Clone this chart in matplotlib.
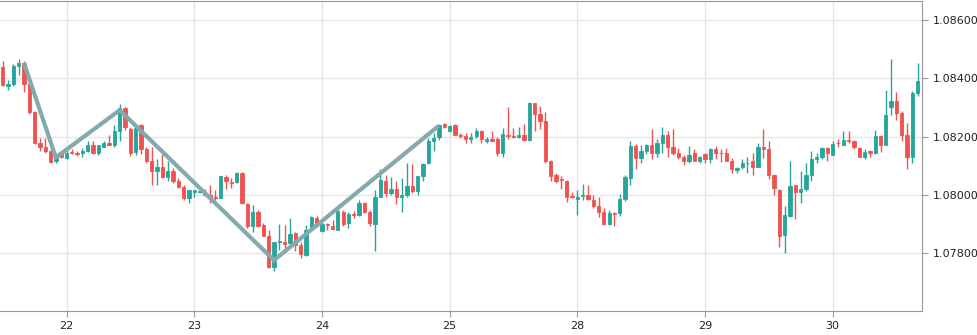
import matplotlib
matplotlib.use("Agg")
import matplotlib.pyplot as plt
import numpy as np

# hourly candles, first one at 21st 12:00
opens = [1.08439, 1.08375, 1.08379, 1.08443, 1.08452, 1.08382, 1.08286, 1.08177, 1.08166, 1.08150,
         1.08118, 1.08143, 1.08127, 1.08148, 1.08143, 1.08143, 1.08150, 1.08170, 1.08143, 1.08166,
         1.08180, 1.08173, 1.08218, 1.08298, 1.08227, 1.08147, 1.08241, 1.08159, 1.08116, 1.08082,
         1.08098, 1.08061, 1.08084, 1.08050, 1.08027, 1.07991, 1.08009, 1.08011, 1.08009, 1.08002,
         1.07993, 1.07991, 1.08061, 1.08044, 1.08045, 1.08077, 1.07970, 1.07893, 1.07941, 1.07898,
         1.07859, 1.07755, 1.07839, 1.07840, 1.07836, 1.07870, 1.07830, 1.07796, 1.07891, 1.07920,
         1.07877, 1.07902, 1.07895, 1.07882, 1.07943, 1.07905, 1.07934, 1.07932, 1.07973, 1.07943,
         1.07902, 1.07995, 1.08050, 1.08007, 1.08020, 1.07993, 1.08002, 1.08030, 1.08014, 1.08064,
         1.08109, 1.08184, 1.08198, 1.08243, 1.08220, 1.08241, 1.08207, 1.08202, 1.08191, 1.08202,
         1.08220, 1.08186, 1.08191, 1.08193, 1.08143, 1.08206, 1.08202, 1.08198, 1.08207, 1.08189,
         1.08314, 1.08277, 1.08254, 1.08118, 1.08068, 1.08055, 1.08050, 1.07998, 1.07986, 1.07997,
         1.08000, 1.07982, 1.07961, 1.07941, 1.07900, 1.07939, 1.07939, 1.07986, 1.08057, 1.08168,
         1.08127, 1.08152, 1.08173, 1.08143, 1.08180, 1.08207, 1.08166, 1.08143, 1.08130, 1.08116,
         1.08143, 1.08118, 1.08141, 1.08123, 1.08159, 1.08145, 1.08145, 1.08118, 1.08086, 1.08095,
         1.08109, 1.08116, 1.08098, 1.08166, 1.08159, 1.08070, 1.08018, 1.07863, 1.07927, 1.08034,
         1.08009, 1.08020, 1.08070, 1.08125, 1.08132, 1.08161, 1.08139, 1.08180, 1.08173, 1.08189,
         1.08186, 1.08161, 1.08132, 1.08152, 1.08143, 1.08202, 1.08173, 1.08302, 1.08323, 1.08282,
         1.08207, 1.08132, 1.08350]
highs = [1.08459, 1.08393, 1.08448, 1.08466, 1.08459, 1.08384, 1.08289, 1.08195, 1.08195, 1.08157,
         1.08141, 1.08152, 1.08161, 1.08157, 1.08152, 1.08161, 1.08184, 1.08186, 1.08173, 1.08184,
         1.08205, 1.08241, 1.08311, 1.08302, 1.08232, 1.08236, 1.08245, 1.08164, 1.08166, 1.08125,
         1.08141, 1.08118, 1.08093, 1.08057, 1.08034, 1.08018, 1.08018, 1.08023, 1.08020, 1.08036,
         1.08016, 1.08066, 1.08068, 1.08057, 1.08079, 1.08079, 1.07973, 1.07966, 1.07948, 1.07905,
         1.07880, 1.07841, 1.07902, 1.07898, 1.07923, 1.07873, 1.07839, 1.07898, 1.07927, 1.07927,
         1.07907, 1.07905, 1.07914, 1.07950, 1.07948, 1.07943, 1.07945, 1.07982, 1.07975, 1.07948,
         1.08016, 1.08089, 1.08068, 1.08061, 1.08050, 1.08057, 1.08111, 1.08107, 1.08066, 1.08109,
         1.08195, 1.08214, 1.08243, 1.08248, 1.08241, 1.08242, 1.08214, 1.08214, 1.08214, 1.08229,
         1.08223, 1.08200, 1.08218, 1.08198, 1.08229, 1.08302, 1.08229, 1.08234, 1.08245, 1.08320,
         1.08316, 1.08307, 1.08286, 1.08120, 1.08077, 1.08064, 1.08052, 1.08009, 1.08016, 1.08039,
         1.08036, 1.08000, 1.07995, 1.07955, 1.07948, 1.07941, 1.08005, 1.08070, 1.08186, 1.08175,
         1.08173, 1.08175, 1.08225, 1.08193, 1.08234, 1.08218, 1.08225, 1.08161, 1.08139, 1.08168,
         1.08157, 1.08133, 1.08143, 1.08161, 1.08168, 1.08157, 1.08161, 1.08127, 1.08095, 1.08125,
         1.08132, 1.08145, 1.08180, 1.08225, 1.08184, 1.08073, 1.08020, 1.07964, 1.08118, 1.08036,
         1.08084, 1.08111, 1.08150, 1.08143, 1.08166, 1.08164, 1.08186, 1.08191, 1.08220, 1.08220,
         1.08189, 1.08164, 1.08157, 1.08154, 1.08223, 1.08207, 1.08359, 1.08466, 1.08352, 1.08289,
         1.08248, 1.08357, 1.08454]
lows = [1.08374, 1.08359, 1.08375, 1.08411, 1.08354, 1.08277, 1.08175, 1.08152, 1.08143, 1.08110,
        1.08109, 1.08127, 1.08125, 1.08141, 1.08134, 1.08132, 1.08148, 1.08141, 1.08139, 1.08164,
        1.08170, 1.08164, 1.08184, 1.08223, 1.08135, 1.08136, 1.08141, 1.08111, 1.08036, 1.08033,
        1.08057, 1.08050, 1.08041, 1.08025, 1.07982, 1.07973, 1.07993, 1.08007, 1.07998, 1.07973,
        1.07984, 1.07989, 1.08020, 1.08025, 1.08043, 1.07970, 1.07886, 1.07875, 1.07891, 1.07859,
        1.07752, 1.07741, 1.07811, 1.07806, 1.07834, 1.07809, 1.07784, 1.07793, 1.07889, 1.07891,
        1.07875, 1.07880, 1.07880, 1.07880, 1.07895, 1.07889, 1.07920, 1.07930, 1.07939, 1.07893,
        1.07809, 1.07993, 1.07993, 1.08000, 1.07970, 1.07943, 1.07993, 1.08007, 1.08002, 1.08048,
        1.08107, 1.08152, 1.08189, 1.08229, 1.08216, 1.08206, 1.08195, 1.08177, 1.08177, 1.08195,
        1.08179, 1.08179, 1.08184, 1.08134, 1.08129, 1.08191, 1.08195, 1.08195, 1.08186, 1.08184,
        1.08218, 1.08227, 1.08109, 1.08048, 1.08043, 1.08020, 1.07975, 1.07989, 1.07932, 1.07982,
        1.07984, 1.07955, 1.07925, 1.07898, 1.07899, 1.07893, 1.07927, 1.07980, 1.08034, 1.08091,
        1.08109, 1.08141, 1.08125, 1.08132, 1.08143, 1.08129, 1.08136, 1.08125, 1.08102, 1.08111,
        1.08116, 1.08111, 1.08111, 1.08109, 1.08125, 1.08114, 1.08116, 1.08075, 1.08077, 1.08091,
        1.08077, 1.08070, 1.08095, 1.08127, 1.08055, 1.08002, 1.07823, 1.07800, 1.07925, 1.07918,
        1.07973, 1.08014, 1.08050, 1.08109, 1.08125, 1.08118, 1.08136, 1.08164, 1.08170, 1.08177,
        1.08157, 1.08129, 1.08125, 1.08132, 1.08141, 1.08148, 1.08170, 1.08273, 1.08259, 1.08186,
        1.08089, 1.08111, 1.08341]
closes = [1.08376, 1.08382, 1.08443, 1.08452, 1.08382, 1.08286, 1.08177, 1.08166, 1.08150, 1.08112,
          1.08130, 1.08132, 1.08145, 1.08143, 1.08141, 1.08150, 1.08170, 1.08143, 1.08170, 1.08180,
          1.08173, 1.08218, 1.08298, 1.08232, 1.08145, 1.08229, 1.08159, 1.08116, 1.08082, 1.08098,
          1.08061, 1.08084, 1.08050, 1.08027, 1.07991, 1.08016, 1.08016, 1.08015, 1.08000, 1.07993,
          1.07990, 1.08064, 1.08048, 1.08041, 1.08077, 1.07973, 1.07893, 1.07941, 1.07893, 1.07861,
          1.07755, 1.07839, 1.07842, 1.07834, 1.07868, 1.07830, 1.07798, 1.07882, 1.07925, 1.07905,
          1.07900, 1.07898, 1.07884, 1.07945, 1.07900, 1.07936, 1.07932, 1.07973, 1.07943, 1.07905,
          1.07995, 1.08052, 1.08007, 1.08020, 1.07993, 1.08002, 1.08030, 1.08014, 1.08064, 1.08107,
          1.08184, 1.08195, 1.08241, 1.08234, 1.08236, 1.08207, 1.08202, 1.08191, 1.08200, 1.08220,
          1.08193, 1.08191, 1.08186, 1.08143, 1.08211, 1.08202, 1.08198, 1.08207, 1.08189, 1.08314,
          1.08279, 1.08254, 1.08118, 1.08064, 1.08050, 1.08051, 1.07995, 1.07993, 1.07995, 1.07999,
          1.07986, 1.07961, 1.07941, 1.07900, 1.07939, 1.07936, 1.07986, 1.08061, 1.08168, 1.08127,
          1.08152, 1.08173, 1.08143, 1.08180, 1.08207, 1.08166, 1.08143, 1.08130, 1.08116, 1.08139,
          1.08118, 1.08132, 1.08123, 1.08159, 1.08145, 1.08143, 1.08118, 1.08089, 1.08093, 1.08111,
          1.08111, 1.08098, 1.08166, 1.08159, 1.08070, 1.08025, 1.07859, 1.07932, 1.08030, 1.08011,
          1.08020, 1.08070, 1.08125, 1.08132, 1.08161, 1.08143, 1.08175, 1.08177, 1.08189, 1.08186,
          1.08164, 1.08132, 1.08148, 1.08143, 1.08202, 1.08173, 1.08275, 1.08323, 1.08282, 1.08207,
          1.08132, 1.08350, 1.08391]

# zigzag pivots (candle index, price)
zz_idx = [4, 10, 22, 51, 82]
zz_price = [1.08453, 1.08129, 1.08291, 1.07777, 1.08238]

day_labels = ["22", "23", "24", "25", "28", "29", "30"]
first_hour = 12  # first candle is 12:00 of the 21st
y_ticks = [1.078, 1.080, 1.082, 1.084, 1.086]

up_col = "#26a69a"
down_col = "#ef5350"

o = np.array(opens)
h = np.array(highs)
l = np.array(lows)
c = np.array(closes)
x = np.arange(len(o))
cols = np.where(c >= o, up_col, down_col)

fig = plt.figure(figsize=(9.78, 3.35), dpi=100)
ax = fig.add_axes([0.0, 24 / 335, 922 / 978, 1 - 24 / 335 - 1 / 335])

ax.vlines(x, l, h, colors=cols, linewidth=1, zorder=2)
ax.bar(x, np.abs(c - o), bottom=np.minimum(o, c), width=0.62, color=cols,
       edgecolor=cols, linewidth=0.6, zorder=3)

ax.plot(zz_idx, zz_price, color="#84a9ae", linewidth=3, solid_joinstyle="miter",
        solid_capstyle="butt", zorder=4)

ax.set_xlim(-0.5, 172.8)
ax.set_ylim(1.07603, 1.08665)

ax.set_xticks([first_hour + 24 * k for k in range(len(day_labels))])
ax.set_xticklabels(day_labels)
ax.set_yticks(y_ticks)
ax.set_yticklabels([f"{v:.5f}" for v in y_ticks])
ax.yaxis.tick_right()

ax.grid(True, color="#e6e6e6", linewidth=1)
ax.set_axisbelow(True)
for side in ["top", "right", "bottom"]:
    ax.spines[side].set_color("#999999")
ax.spines["left"].set_visible(False)
ax.tick_params(axis="both", colors="#999999", labelcolor="#222222", labelsize=8, length=4)

fig.savefig("out.png", dpi=100)
